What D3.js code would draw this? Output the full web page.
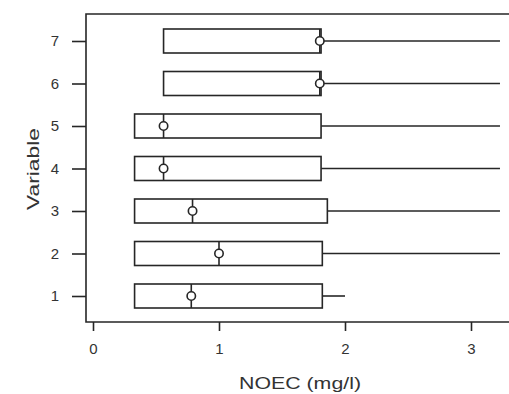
<!DOCTYPE html>
<html><head><meta charset="utf-8">
<script src="https://cdn.jsdelivr.net/npm/d3@7"></script>
<style>body{margin:0;background:#fff}svg{display:block}text{font-family:"Liberation Sans",Arial,sans-serif;fill:#333}</style>
</head><body>
<svg id="c" width="509" height="394"></svg>
<script>
const variables = [1, 2, 3, 4, 5, 6, 7];
const q1 = [0.33, 0.33, 0.33, 0.33, 0.33, 0.56, 0.56];
const medians = [0.78, 1.0, 0.79, 0.56, 0.56, 1.8, 1.8];
const q3 = [1.82, 1.82, 1.86, 1.81, 1.81, 1.81, 1.81];
const whiskerMax = [2.0, 3.23, 3.23, 3.23, 3.23, 3.23, 3.23];
const xTicks = [0, 1, 2, 3];
const yTicks = [1, 2, 3, 4, 5, 6, 7];

(function () {
const svg = d3.select("#c");
const ink = "#262626";
const x = d3.scaleLinear().domain([0, 3.3]).range([93, 93 + 3.3 * 126]);
const y = d3.scaleLinear().domain([1, 7]).range([296, 41]);
const fl = 86, ft = 14, fb = 322, fr = 509;

// frame
svg.append("path").attr("d", `M${fr},${ft}H${fl}V${fb}H${fr}`)
  .attr("fill", "none").attr("stroke", ink).attr("stroke-width", 1.6);

// x axis
const xa = svg.append("g").attr("transform", `translate(0,${fb})`)
  .call(d3.axisBottom(x).tickValues(xTicks).tickFormat(d3.format("d")).tickSize(9).tickPadding(12));
xa.select(".domain").remove();
xa.selectAll("line").attr("stroke", ink).attr("stroke-width", 1.6);
xa.selectAll("text").attr("font-size", 15).attr("fill", "#333");

// y axis
const ya = svg.append("g").attr("transform", `translate(${fl},0)`)
  .call(d3.axisLeft(y).tickValues(yTicks).tickFormat(d3.format("d")).tickSize(14).tickPadding(13));
ya.select(".domain").remove();
ya.selectAll("line").attr("stroke", ink).attr("stroke-width", 1.6);
ya.selectAll("text").attr("font-size", 15).attr("fill", "#333");

// boxes
const data = variables.map((v, i) => ({v, q1: q1[i], med: medians[i], q3: q3[i], hi: whiskerMax[i]}));
const bh = 12;
const g = svg.append("g").attr("stroke", ink).attr("stroke-width", 1.6).attr("fill", "none");
const rows = g.selectAll("g").data(data).join("g");
rows.append("line").attr("x1", d => x(d.q3)).attr("x2", d => x(d.hi))
  .attr("y1", d => y(d.v)).attr("y2", d => y(d.v));
rows.append("rect").attr("x", d => x(d.q1)).attr("width", d => x(d.q3) - x(d.q1))
  .attr("y", d => y(d.v) - bh).attr("height", 2 * bh).attr("fill", "#fff");
rows.append("line").attr("x1", d => x(d.med)).attr("x2", d => x(d.med))
  .attr("y1", d => y(d.v) - bh).attr("y2", d => y(d.v) + bh);
rows.append("circle").attr("cx", d => x(d.med)).attr("cy", d => y(d.v)).attr("r", 4.2).attr("fill", "#fff");

// titles
svg.append("text").attr("x", 300).attr("y", 389).attr("text-anchor", "middle")
  .attr("font-size", 17).attr("textLength", 122).attr("lengthAdjust", "spacingAndGlyphs")
  .text("NOEC (mg/l)");
svg.append("text").attr("transform", "translate(39,169) rotate(-90)").attr("text-anchor", "middle")
  .attr("font-size", 17).attr("textLength", 82).attr("lengthAdjust", "spacingAndGlyphs")
  .text("Variable");
})();
</script>
</body></html>
